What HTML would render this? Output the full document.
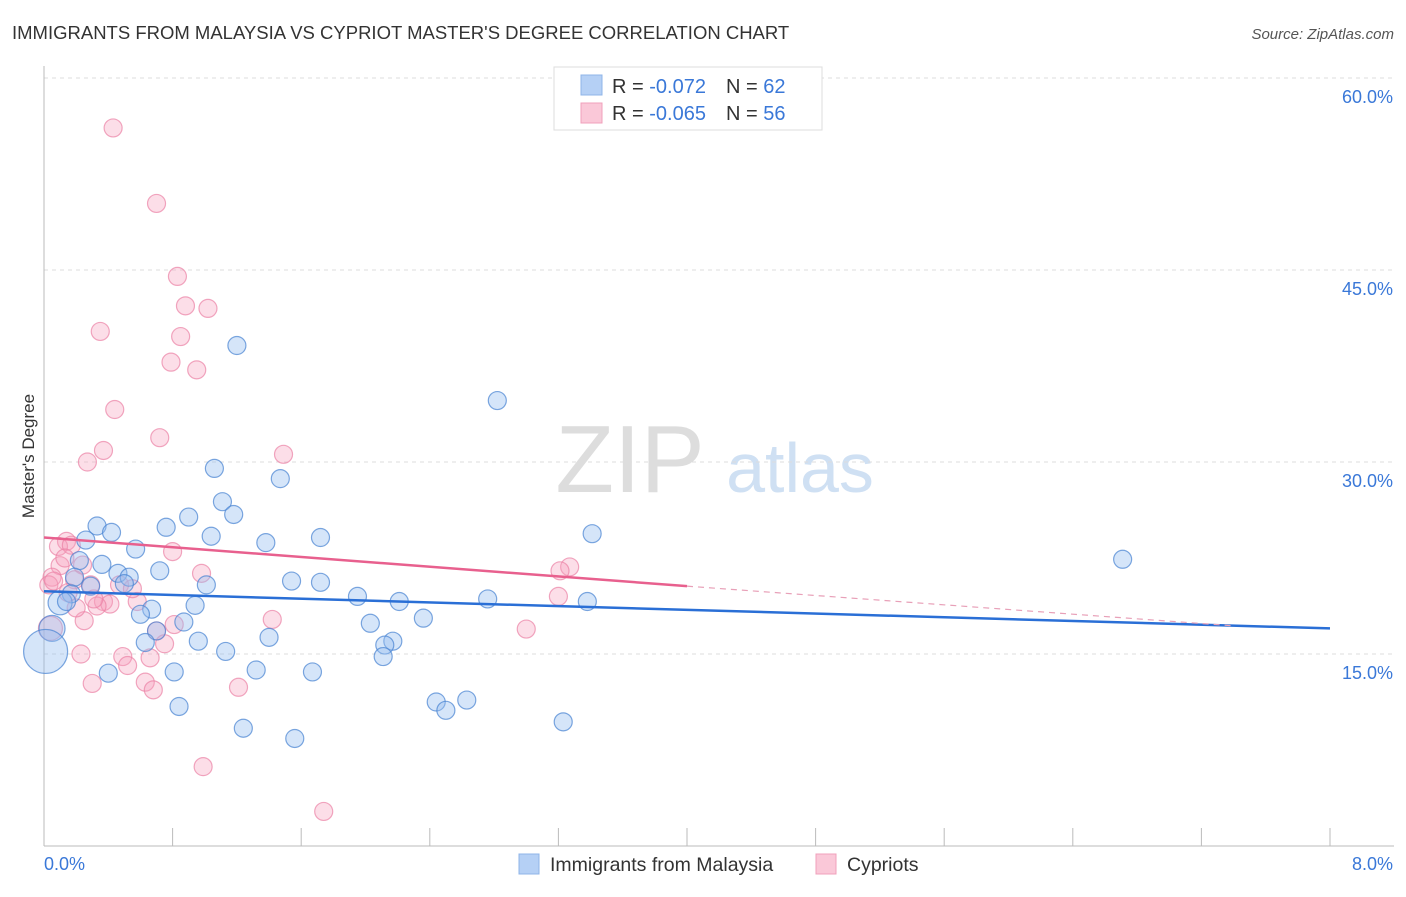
<!DOCTYPE html>
<html><head><meta charset="utf-8"><style>
body{margin:0;background:#fff;font-family:"Liberation Sans",sans-serif}
svg text{font-family:"Liberation Sans",sans-serif}
</style></head><body>
<svg id="c" width="1406" height="892">
<text x="12" y="39" font-size="18.5" fill="#333">IMMIGRANTS FROM MALAYSIA VS CYPRIOT MASTER'S DEGREE CORRELATION CHART</text>
<text x="1394" y="39" font-size="15" fill="#555" font-style="italic" text-anchor="end">Source: ZipAtlas.com</text>
<text x="34" y="456" font-size="17" fill="#333" text-anchor="middle" transform="rotate(-90 34 456)">Master's Degree</text>
<text x="630" y="492" font-size="96" fill="#ddd" font-family="Liberation Serif" text-anchor="middle">ZIP</text>
<text x="800" y="492" font-size="70" fill="#cfe0f3" text-anchor="middle">atlas</text>
<g id="grid"></g><g id="pts"></g><g id="lines"></g>
<g>
<rect x="554" y="67" width="268" height="63" fill="#fff" stroke="#ddd"/>
<rect x="581" y="75" width="21" height="20" fill="#b5d0f5" stroke="#8fb4e8"/>
<rect x="581" y="103" width="21" height="20" fill="#fac8d8" stroke="#f0a0bb"/>
<text x="612" y="93" font-size="20" fill="#333">R = <tspan fill="#3a78d8">-0.072</tspan><tspan dx="20">N = </tspan><tspan fill="#3a78d8">62</tspan></text>
<text x="612" y="120" font-size="20" fill="#333">R = <tspan fill="#3a78d8">-0.065</tspan><tspan dx="20">N = </tspan><tspan fill="#3a78d8">56</tspan></text>
</g>
<g>
<rect x="519" y="854" width="20" height="20" fill="#b5d0f5" stroke="#8fb4e8"/>
<text x="550" y="871" font-size="19.5" fill="#333">Immigrants from Malaysia</text>
<rect x="816" y="854" width="20" height="20" fill="#fac8d8" stroke="#f0a0bb"/>
<text x="847" y="871" font-size="19.5" fill="#333">Cypriots</text>
</g>
</svg>
<script>
const yTicks=[15,30,45,60];
const xTickLabels=["0.0%","8.0%"];
const blueX=[1.20,2.82,1.06,1.47,1.11,1.18,0.90,0.33,0.76,0.42,1.04,1.72,3.41,0.26,1.38,0.57,0.22,0.36,6.71,0.72,0.46,0.53,0.19,0.50,1.54,1.72,1.01,0.29,0.17,1.95,2.76,2.21,3.38,0.94,0.10,0.67,0.60,2.36,2.03,0.87,0.70,0.05,1.40,0.63,0.96,2.17,2.12,1.13,0.01,2.11,1.32,0.81,1.67,0.40,2.44,2.63,2.50,0.84,3.23,1.24,1.56,0.14];
const blueY=[39.1,34.8,29.5,28.7,26.9,25.9,25.7,25.0,24.9,24.5,24.2,24.1,24.4,23.9,23.7,23.2,22.3,22.0,22.4,21.5,21.3,21.0,21.0,20.5,20.7,20.6,20.4,20.3,19.7,19.5,19.3,19.1,19.1,18.8,19.0,18.5,18.1,17.8,17.4,17.5,16.8,17.0,16.3,15.9,16.0,16.0,15.7,15.2,15.2,14.8,13.75,13.6,13.6,13.5,11.25,11.4,10.6,10.9,9.7,9.2,8.4,19.1];
const blueSize=[9,9,9,9,9,9,9,9,9,9,9,9,9,9,9,9,9,9,9,9,9,9,9,9,9,9,9,9,9,9,9,9,9,9,12,9,9,9,9,9,9,13,9,9,9,9,9,9,22,9,9,9,9,9,9,9,9,9,9,9,9,9];
const pinkX=[0.43,0.70,0.83,0.88,1.02,0.35,0.85,0.79,0.95,0.44,0.72,0.37,1.49,0.27,0.14,0.09,0.17,0.80,0.24,0.10,3.27,3.21,0.98,0.05,0.19,0.29,0.47,0.03,0.15,3.20,0.58,0.37,0.41,0.33,1.42,0.25,0.81,3.00,0.70,0.75,0.23,0.49,0.66,0.52,0.30,0.63,0.68,1.21,0.99,1.74,0.04,0.13,0.55,0.20,0.06,0.31];
const pinkY=[56.1,50.2,44.5,42.2,42.0,40.2,39.8,37.8,37.2,34.1,31.9,30.9,30.6,30.0,23.8,23.4,23.5,23.0,21.95,21.9,21.8,21.5,21.3,21.0,20.8,20.4,20.4,20.4,19.8,19.5,19.1,19.1,18.9,18.75,17.7,17.6,17.3,16.95,16.8,15.8,15.0,14.8,14.7,14.1,12.7,12.8,12.2,12.4,6.2,2.7,17.0,22.5,20.1,18.6,20.7,19.3];
const blueTrend=[19.9,17.0];
const pinkTrend=[24.1,20.3,17.2];
const NS="http://www.w3.org/2000/svg";
const X0=44,X1=1330,Y0=846,YTOP=78;
const sx=v=>X0+(v/8)*(X1-X0);
const sy=v=>Y0-(v/60)*(Y0-YTOP);
function mk(tag,attrs,parent){const e=document.createElementNS(NS,tag);for(const k in attrs)e.setAttribute(k,attrs[k]);parent.appendChild(e);return e;}
const grid=document.getElementById('grid');
yTicks.forEach(t=>{
 const l=mk('line',{x1:X0,x2:1394,y1:sy(t),y2:sy(t),stroke:'#ddd','stroke-dasharray':'4,4'},grid);
 
 
 const tx=mk('text',{x:1393,y:sy(t)+25,'font-size':18,fill:'#3a78d8','text-anchor':'end'},grid);
 tx.textContent=t.toFixed(1)+'%';
 
 
});
const ax=mk('line',{x1:X0,x2:X0,y1:66,y2:Y0,stroke:'#bbb'},grid);


const bx=mk('line',{x1:X0,x2:1394,y1:Y0,y2:Y0,stroke:'#bbb'},grid);


for(let i=1;i<=10;i++){const xx=X0+i*(X1-X0)/10;const tk=mk('line',{x1:xx,x2:xx,y1:828,y2:Y0,stroke:'#bbb'},grid);
 
 }
const xl0=mk('text',{x:44,y:870,'font-size':18,fill:'#3a78d8'},grid);xl0.textContent=xTickLabels[0];


const xl1=mk('text',{x:1393,y:870,'font-size':18,fill:'#3a78d8','text-anchor':'end'},grid);xl1.textContent=xTickLabels[1];


const pts=document.getElementById('pts');
pinkX.forEach((v,i)=>{const c=mk('circle',{cx:sx(v),cy:sy(pinkY[i]),r:i==50?12:9,fill:'rgba(245,160,190,0.35)',stroke:'rgba(235,130,165,0.7)','stroke-width':1.2},pts);
 
 });
blueX.forEach((v,i)=>{const c=mk('circle',{cx:sx(v),cy:sy(blueY[i]),r:blueSize[i],fill:'rgba(150,190,240,0.4)',stroke:'rgba(70,130,210,0.7)','stroke-width':1.2},pts);
 
 });
const lines=document.getElementById('lines');
const b=mk('line',{x1:sx(0),y1:sy(blueTrend[0]),x2:sx(8),y2:sy(blueTrend[1]),stroke:'#2a6fd6','stroke-width':2.5},lines);


const p=mk('line',{x1:sx(0),y1:sy(pinkTrend[0]),x2:sx(4),y2:sy(pinkTrend[1]),stroke:'#e8608e','stroke-width':2.5},lines);


const pd=mk('line',{x1:sx(4),y1:sy(pinkTrend[1]),x2:sx(7.4),y2:sy(pinkTrend[2]),stroke:'#e8a0b8','stroke-width':1.2,'stroke-dasharray':'6,5'},lines);


</script>
</body></html>
